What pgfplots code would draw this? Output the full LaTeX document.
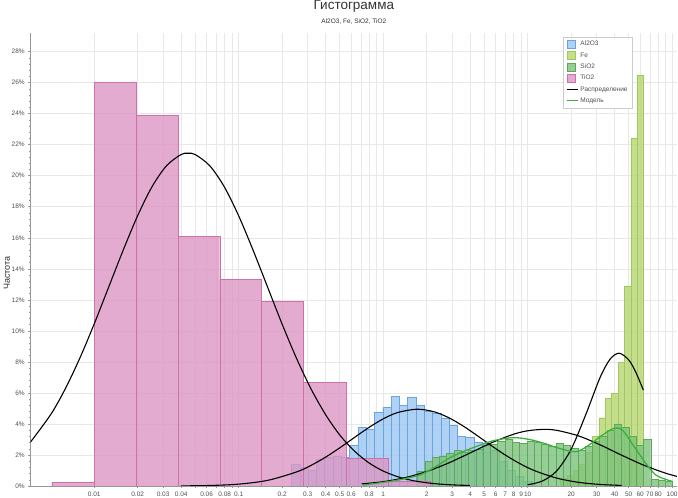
\documentclass[border=0pt]{standalone}
\usepackage{pgfplots}
\pgfplotsset{compat=1.18}
\usepackage{fontspec}
\setmainfont{Liberation Sans}
\definecolor{alF}{RGB}{155,198,240}
\definecolor{alD}{RGB}{105,163,225}
\definecolor{feF}{RGB}{182,214,112}
\definecolor{feD}{RGB}{160,200,90}
\definecolor{siF}{RGB}{125,194,125}
\definecolor{siD}{RGB}{90,170,90}
\definecolor{tiF}{RGB}{220,150,195}
\definecolor{tiD}{RGB}{210,110,170}
\definecolor{modelG}{RGB}{60,175,60}
\definecolor{gridc}{RGB}{232,232,232}
\definecolor{axc}{RGB}{150,150,150}
\definecolor{txt}{RGB}{80,80,80}
\pgfplotsset{
  sqleg/.style={legend image code/.code={\draw[##1] (0pt,-4pt) rectangle (8pt,4pt);}},
  lnleg/.style={legend image code/.code={\draw[##1] (0pt,0pt) -- (11pt,0pt);}},
  histo/.style={ybar interval, fill opacity=0.8, line width=0.4pt, forget plot},
}
\begin{document}
\begin{tikzpicture}
\useasboundingbox (-30.7pt,-12pt) rectangle (647.3pt,486pt);
\begin{axis}[
  at={(0pt,0pt)}, anchor=south west,
  scale only axis, width=646.3pt, height=453pt,
  xmode=log,
  xmin=0.003634, xmax=108, ymin=0, ymax=29.2,
  axis lines*=left,
  axis line style={axc, line width=0.6pt},
  tick style={axc, line width=0.5pt},
  tick align=outside,
  major tick length=2.5pt, minor tick length=1.5pt,
  ytick={0,2,...,28},
  yticklabels={0\%,2\%,4\%,6\%,8\%,10\%,12\%,14\%,16\%,18\%,20\%,22\%,24\%,26\%,28\%},
  minor y tick num=4,
  xtick={0.01,0.02,0.03,0.04,0.05,0.06,0.07,0.08,0.09,0.1,0.2,0.3,0.4,0.5,0.6,0.7,0.8,0.9,1,2,3,4,5,6,7,8,9,10,20,30,40,50,60,70,80,90,100},
  xticklabels={0.01,0.02,0.03,0.04,,0.06,,0.08,,0.1,0.2,0.3,0.4,0.5,0.6,,0.8,,1,2,3,4,5,6,7,8,9,10,20,30,40,50,60,70,80,,100},
  minor xtick={},
  xmajorgrids, ymajorgrids,
  grid style={gridc, line width=0.5pt},
  ticklabel style={font=\fontsize{6.5}{7}\selectfont, text=txt},
  ylabel={Частота},
  ylabel style={font=\fontsize{9}{10}\selectfont, text=txt!60!black, at={(axis description cs:-0.037,0.47)}, anchor=center},
  title={{\fontsize{13.5}{14}\selectfont Гистограмма}\\[2pt]{\fontsize{6.5}{7}\selectfont Al2O3, Fe, SiO2, TiO2}},
  title style={at={(0.5,1)}, anchor=south, yshift=2pt, align=center, text=black!80, inner sep=0pt},
  legend style={at={(0.8236,0.991)}, anchor=north west, draw=gray!40, fill=white,
    font=\fontsize{6.5}{7.5}\selectfont, text=txt, inner xsep=3pt, inner ysep=2pt, row sep=1.2pt},
  legend cell align=left,
  clip=true,
]
% Al2O3
\addplot[histo, fill=alF, draw=alD] coordinates {
(0.2321,1.4) (0.2649,1.2) (0.3023,1.0) (0.3450,1.7) (0.3937,1.85) (0.4493,1.9) (0.5127,1.85) (0.5851,2.6) (0.6677,3.8) (0.7620,3.65) (0.8696,4.75) (0.9923,5.05) (1.1325,5.8) (1.2924,5.2) (1.4748,5.75) (1.6831,5.2) (1.9207,4.85) (2.1919,4.7) (2.5014,4.4) (2.8546,3.9) (3.2577,3.2) (3.7177,3.15) (4.2427,2.85) (4.8417,2.75) (5.5254,2.3) (6.3055,1.6) (7.1959,1.0) (8.2119,0.6) (9.3715,0.3) (10.695,0)
};
% Fe
\addplot[histo, fill=feF, draw=feD] coordinates {
(16.88,0.5) (18.69,0.7) (20.69,1.0) (22.91,1.4) (25.37,2.2) (28.09,3.2) (31.10,4.4) (34.43,5.65) (38.13,6.0) (42.21,8.0) (46.74,12.9) (51.75,22.4) (57.30,26.45) (63.44,0)
};
% SiO2
\addplot[histo, fill=siF, draw=siD] coordinates {
(1.7258,0.95) (1.9384,1.6) (2.1772,1.85) (2.4454,1.95) (2.7466,2.1) (3.0850,2.3) (3.4650,2.2) (3.8919,2.3) (4.3713,2.35) (4.9099,2.6) (5.5147,2.7) (6.1941,2.9) (6.9571,3.0) (7.8141,2.8) (8.7768,2.75) (9.8580,2.9) (11.072,2.8) (12.436,2.7) (13.968,2.55) (15.689,2.75) (17.622,2.65) (19.793,2.45) (22.231,2.3) (24.970,2.55) (28.046,2.9) (31.501,3.2) (35.381,3.6) (39.740,4.0) (44.635,3.8) (50.134,3.2) (56.310,2.6) (63.246,3.0) (71.038,0.45) (79.789,0.35) (89.618,0.3) (100.66,0)
};
% TiO2
\addplot[histo, fill=tiF, draw=tiD] coordinates {
(0.00508,0.25) (0.01,26.0) (0.01951,23.9) (0.03788,16.1) (0.0739,13.3) (0.1435,11.9) (0.2812,6.7) (0.5549,1.8) (1.088,0.3) (2.123,0)
};
% distribution curves
\addplot[black, line width=1.1pt, smooth, forget plot] coordinates {
(0.0036,2.80) (0.005012,4.62) (0.006310,6.27) (0.007943,8.23) (0.01,10.45) (0.012589,12.82) (0.015849,15.19) (0.019953,17.41) (0.025119,19.29) (0.031623,20.64) (0.039811,21.36) (0.044668,21.45) (0.050119,21.36) (0.063096,20.64) (0.079433,19.29) (0.1,17.41) (0.12589,15.19) (0.15849,12.82) (0.19953,10.45) (0.25119,8.23) (0.31623,6.27) (0.39811,4.62) (0.50119,3.28) (0.63096,2.26) (0.79433,1.50) (1,0.965) (1.2589,0.60) (1.5849,0.36) (1.9953,0.21) (2.5119,0.117) (3.1623,0.063) (3.9811,0.033)
};
\addplot[black, line width=1.1pt, smooth, forget plot] coordinates {
(0.039811,0.007) (0.063096,0.033) (0.1,0.12) (0.15849,0.363) (0.25119,0.904) (0.31623,1.326) (0.39811,1.851) (0.50119,2.463) (0.63096,3.12) (0.79433,3.765) (1,4.326) (1.2589,4.735) (1.7179,4.95) (2.2387,4.79) (2.8184,4.42) (3.5481,3.886) (4.4668,3.253) (5.6234,2.592) (7.0795,1.968) (8.9125,1.423) (11.220,0.98) (15.849,0.511) (22.387,0.239) (31.623,0.10) (44.668,0.037)
};
\addplot[black, line width=1.1pt, smooth, forget plot] coordinates {
(0.70795,0.134) (1,0.28) (1.4125,0.535) (1.9953,0.931) (2.8184,1.473) (3.9811,2.123) (5.6234,2.786) (7.9433,3.33) (10,3.559) (12.882,3.65) (15.849,3.589) (22.387,3.237) (31.623,2.659) (44.668,1.988) (63.096,1.354) (89.125,0.839) (107.9,0.62)
};
\addplot[black, line width=1.1pt, smooth, forget plot] coordinates {
(10,0.08) (12.589,0.313) (15.849,0.965) (19.953,2.354) (25.119,4.55) (31.623,6.97) (37.154,8.17) (42.954,8.56) (50.119,8.12) (56.234,7.30) (63.096,6.19)
};
% model
\addplot[modelG, line width=1.3pt, smooth, forget plot] coordinates {
(0.723,0.06) (0.943,0.2) (1.296,0.4) (1.782,0.7) (2.262,1.2) (2.872,1.8) (3.532,2.2) (4.392,2.54) (5.427,2.85) (6.365,3.0) (8.08,3.12) (10.26,3.0) (13.03,2.75) (16.52,2.43) (21.57,2.21) (26.66,2.65) (32.94,3.29) (39.66,3.72) (45.29,3.6) (54.55,2.54) (65.74,1.46) (77.1,0.71) (92.7,0.39) (100,0.3)
};
% legend
\addlegendimage{sqleg, fill=alF, draw=alD, fill opacity=0.8}
\addlegendentry{Al2O3}
\addlegendimage{sqleg, fill=feF, draw=feD, fill opacity=0.8}
\addlegendentry{Fe}
\addlegendimage{sqleg, fill=siF, draw=siD, fill opacity=0.8}
\addlegendentry{SiO2}
\addlegendimage{sqleg, fill=tiF, draw=tiD, fill opacity=0.8}
\addlegendentry{TiO2}
\addlegendimage{lnleg, black, line width=1.1pt}
\addlegendentry{Распределение}
\addlegendimage{lnleg, modelG, line width=1.3pt}
\addlegendentry{Модель}
\end{axis}
\end{tikzpicture}
\end{document}
